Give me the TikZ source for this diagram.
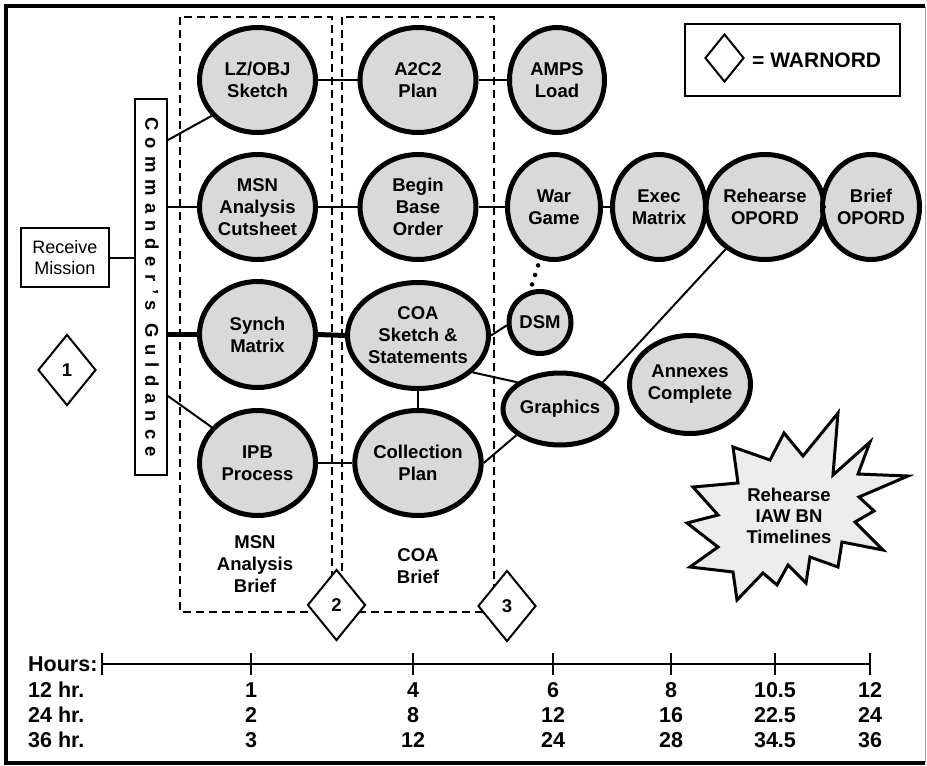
\documentclass[tikz,border=0pt]{standalone}
\usepackage{fontspec}
\setmainfont{Liberation Sans}
\newfontfamily\spacedfont[LetterSpace=38]{Liberation Sans}
\usetikzlibrary{shapes.geometric,calc}
\definecolor{ovalgray}{RGB}{217,217,217}
\definecolor{burstgray}{RGB}{236,236,236}
\definecolor{framegray}{RGB}{160,160,160}
\begin{document}
\begin{tikzpicture}[x=1pt,y=-1pt,
  oval/.style={ellipse, draw, line width=5pt, fill=ovalgray, inner sep=0pt, align=center,
    font=\fontsize{18.5}{22}\selectfont\bfseries},
  conn/.style={line width=2pt},
  thickconn/.style={line width=5pt},
  warn/.style={diamond, draw, line width=2pt, fill=white, inner sep=0pt,
    minimum width=58pt, minimum height=71pt, font=\fontsize{18.5}{22}\selectfont\bfseries},
  phase/.style={draw, line width=2.5pt, dash pattern=on 8pt off 5pt},
  lbl/.style={align=center, inner sep=0pt, font=\fontsize{18.5}{22}\selectfont\bfseries},
  tl/.style={inner sep=0pt, font=\fontsize{21.5}{25}\selectfont\bfseries},
  tick/.style={line width=2.5pt}]
\useasboundingbox (0,0) rectangle (927,766);
\fill[white] (0,0) rectangle (927,766);
% frame
\draw[line width=4.5pt] (925,6) -- (6,6) -- (6,763) -- (925,763);
\draw[framegray, line width=1pt] (925.5,6) -- (925.5,763);

% dashed phase boxes
\draw[phase] (180,17) rectangle (332,612);
\draw[phase] (342,17) rectangle (494,612);

% commander's guidance box
\node[draw, line width=2pt, minimum width=32pt, minimum height=376pt, inner sep=0pt] (cg) at (151,287) {};
\node[rotate=-90, inner sep=0pt, font=\spacedfont\fontsize{18.5}{22}\selectfont\bfseries] (cgtext) at (152,287) {Commander’s Guldance};

% receive mission
\node[draw, line width=2pt, minimum width=88pt, minimum height=59pt, inner sep=0pt, align=center,
  font=\fontsize{18}{21.5}\selectfont] (rm) at (65,257.5) {Receive\\Mission};

% ovals
\node[oval, minimum width=116pt, minimum height=105pt] (lz) at (257.5,80) {LZ/OBJ\\Sketch};
\node[oval, minimum width=116pt, minimum height=105pt] (a2c2) at (418,80) {A2C2\\Plan};
\node[oval, minimum width=95pt, minimum height=105pt] (amps) at (557,80) {AMPS\\Load};
\node[oval, minimum width=116pt, minimum height=105pt] (msn) at (257.5,207) {MSN\\Analysis\\Cutsheet};
\node[oval, minimum width=116pt, minimum height=105pt] (bbo) at (418,207) {Begin\\Base\\Order};
\node[oval, minimum width=93pt, minimum height=105pt] (war) at (554,207) {War\\Game};
\node[oval, minimum width=93pt, minimum height=105pt] (exec) at (659,207) {Exec\\Matrix};
\node[oval, minimum width=95pt, minimum height=105pt] (reh) at (765,207) {Rehearse\\OPORD};
\node[oval, minimum width=97pt, minimum height=105pt] (brief) at (871,207) {Brief\\OPORD};
\node[oval, minimum width=116pt, minimum height=106pt] (synch) at (257.5,334.5) {Synch\\Matrix};
\node[oval, minimum width=116pt, minimum height=106pt] (coa) at (418,335.5) {COA\\Sketch \&\\Statements};
\node[oval, minimum width=116pt, minimum height=105pt] (ipb) at (257.5,463) {IPB\\Process};
\node[oval, minimum width=116pt, minimum height=105pt] (coll) at (418,463) {Collection\\Plan};
\node[oval, minimum width=62pt, minimum height=62pt] (dsm) at (540,322.5) {DSM};
\node[oval, minimum width=114pt, minimum height=72pt] (gfx) at (560,409) {Graphics};
\node[oval, minimum width=121pt, minimum height=98pt] (annex) at (690,384.5) {Annexes\\Complete};

% connectors
\draw[conn] (rm.east) -- (cg.west |- rm.east);
\draw[conn] ($(cg.north east)+(0,42)$) -- (lz.218);
\draw[conn] (cg.east |- msn.west) -- (msn.west);
\draw[thickconn] (cg.east |- synch.west) -- (synch.west);
\draw[conn] ($(cg.south east)+(0,-80)$) -- (ipb.142);
\draw[conn] (lz.east) -- (a2c2.west);
\draw[conn] (a2c2.east) -- (amps.west);
\draw[conn] (msn.east) -- (bbo.west);
\draw[conn] (bbo.east) -- (war.west);
\draw[conn] (war.east) -- (exec.west);
\draw[conn] (exec.east) -- (reh.west);
\draw[conn] (reh.east) -- (brief.west);
\draw[thickconn] (synch.east) -- (coa.west);
\draw[conn] (ipb.east) -- (coll.west);
\draw[conn] (coa.south) -- (coll.north);
\draw[conn] (coa.east) -- (dsm.185);
\draw[line width=4.5pt, line cap=round, dash pattern=on 0pt off 10pt, shorten <=6pt] (war.255) -- (dsm.107);
\draw[conn] (coa.-34) -- (gfx.148);
\draw[conn] (coll.east) -- (gfx.211);
\draw[conn] (gfx.32) -- (reh.227);

% warnord diamonds
\node[warn] (w1) at (67,370) {1};
\node[warn] (w2) at (336.5,605) {2};
\node[warn] (w3) at (507,606) {3};

% legend
\node[draw, line width=2.5pt, minimum width=215pt, minimum height=72pt, inner sep=0pt] (legend) at (792.5,60) {};
\node[diamond, draw, line width=2pt, inner sep=0pt, minimum width=39pt, minimum height=48pt] (lgd) at (724.5,58) {};
\node[inner sep=0pt, anchor=west, font=\fontsize{21}{25}\selectfont\bfseries] (lgtext) at (752,60) {= WARNORD};

% phase labels
\node[lbl] (msnbrief) at (255,564) {MSN\\Analysis\\Brief};
\node[lbl] (coabrief) at (418,566) {COA\\Brief};

% starburst
\draw[line width=3pt, fill=burstgray, line join=miter]
  (733,447) -- (770,460) -- (784,433) -- (803,456) -- (838,413) -- (833,475) -- (870,442) -- (858,474)
  -- (908,476) -- (859,497) -- (874,511) -- (855,522) -- (883,550) -- (842,542) -- (838,567) -- (810,557)
  -- (806,583) -- (788,565) -- (777,585) -- (763,573) -- (737,600) -- (733,572) -- (690,567) -- (718,547)
  -- (687,523) -- (718,515) -- (693,487) -- (738,483) -- cycle;
\node[lbl, font=\fontsize{18.5}{21}\selectfont\bfseries] (burst) at (789,516) {Rehearse\\IAW BN\\Timelines};

% timeline
\node[tl, anchor=west] (hours) at (28,664) {Hours:};
\node[tl, anchor=west] (r12) at (28,690) {12 hr.};
\node[tl, anchor=west] (r24) at (28,715) {24 hr.};
\node[tl, anchor=west] (r36) at (28,740) {36 hr.};
\draw[tick] (102,664) -- (870,664);
\draw[tick] (102,653) -- (102,675);
\foreach \x/\a/\b/\c [count=\i] in {251/1/2/3, 413/4/8/12, 553/6/12/24, 671/8/16/28, 775/10.5/22.5/34.5, 870/12/24/36} {
  \draw[tick] (\x,653) -- (\x,675);
  \node[tl] (a\i) at (\x,690) {\a};
  \node[tl] (b\i) at (\x,715) {\b};
  \node[tl] (c\i) at (\x,740) {\c};
}
\end{tikzpicture}
\end{document}
